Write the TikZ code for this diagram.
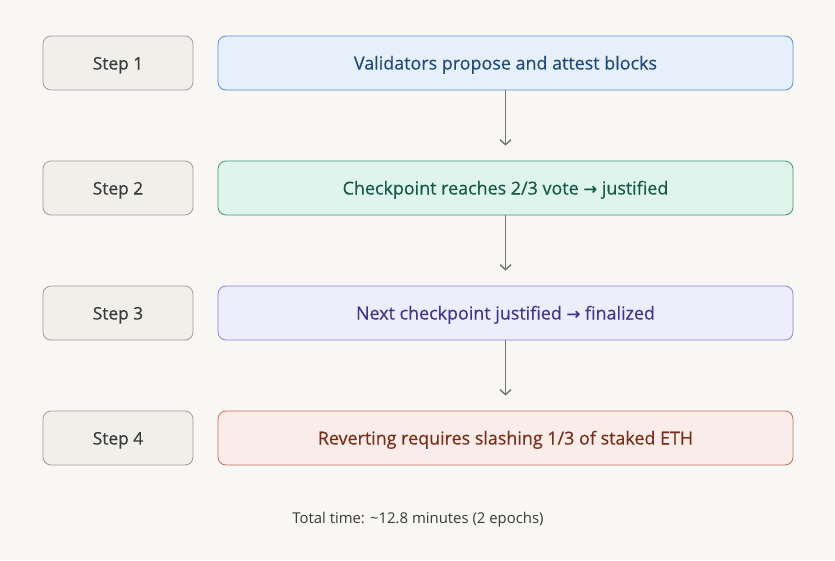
\documentclass[tikz,border=0pt]{standalone}
\usepackage{fontspec}
\setmainfont{Open Sans}
\newfontfamily\medfont{Open Sans}[FakeBold=0.4]
\newfontfamily\arrfont{DejaVu Sans}[FakeBold=0.4]
\usetikzlibrary{arrows.meta}
\definecolor{bg}{HTML}{F8F7F4}
\definecolor{stepfill}{HTML}{F1EFE9}
\definecolor{stepdraw}{HTML}{A09E98}
\definecolor{steptext}{HTML}{3A3A38}
\definecolor{bluefill}{HTML}{E6F0FB}
\definecolor{bluedraw}{HTML}{5B8FD0}
\definecolor{bluetext}{HTML}{1E4A7E}
\definecolor{greenfill}{HTML}{E0F4EE}
\definecolor{greendraw}{HTML}{3B9A77}
\definecolor{greentext}{HTML}{155A45}
\definecolor{purpfill}{HTML}{EDEDFC}
\definecolor{purpdraw}{HTML}{8A84D8}
\definecolor{purptext}{HTML}{40358F}
\definecolor{redfill}{HTML}{FAECE8}
\definecolor{reddraw}{HTML}{C0705A}
\definecolor{redtext}{HTML}{7A2E1A}
\definecolor{arrowgray}{HTML}{74746F}
\tikzset{
  stepbox/.style={draw=stepdraw, fill=stepfill, text=steptext, rounded corners=8pt, line width=0.8pt,
    minimum width=150pt, minimum height=54pt, inner sep=0pt, text height=13pt, text depth=0pt,
    font=\medfont\fontsize{17.3}{20}\selectfont},
  mainbox/.style={rounded corners=8pt, line width=0.8pt,
    minimum width=575pt, minimum height=54pt, inner sep=0pt, text height=13pt, text depth=0pt,
    font=\medfont\fontsize{17.9}{20}\selectfont},
  flow/.style={draw=arrowgray, line width=1.4pt, -{Straight Barb[length=5pt,width=11pt]}}
}
\begin{document}
\begin{tikzpicture}[x=1pt,y=-1pt]
\useasboundingbox[fill=bg] (0,0) rectangle (835,560);
\node[stepbox] (s1) at (118,63) {Step 1};
\node[stepbox] (s2) at (118,188) {Step 2};
\node[stepbox] (s3) at (118,313) {Step 3};
\node[stepbox] (s4) at (118,438) {Step 4};
\node[mainbox, draw=bluedraw, fill=bluefill, text=bluetext] (m1) at (505.5,63) {Validators propose and attest blocks};
\node[mainbox, draw=greendraw, fill=greenfill, text=greentext] (m2) at (505.5,188) {Checkpoint reaches 2/3 vote {\arrfont\fontsize{16.5}{18}\selectfont →} justified};
\node[mainbox, draw=purpdraw, fill=purpfill, text=purptext] (m3) at (505.5,313) {Next checkpoint justified {\arrfont\fontsize{16.5}{18}\selectfont →} finalized};
\node[mainbox, draw=reddraw, fill=redfill, text=redtext] (m4) at (505.5,438) {Reverting requires slashing 1/3 of staked ETH};
\coordinate (t2) at ([yshift=15pt]m2.north);
\coordinate (t3) at ([yshift=15pt]m3.north);
\coordinate (t4) at ([yshift=15pt]m4.north);
\draw[flow] (m1.south) -- (t2);
\draw[flow] (m2.south) -- (t3);
\draw[flow] (m3.south) -- (t4);
\node[text=steptext, font=\fontsize{14.9}{18}\selectfont, text height=11pt, text depth=0pt, inner sep=0pt] (total) at (418,518) {Total time: \textasciitilde 12.8 minutes (2 epochs)};
\end{tikzpicture}
\end{document}
